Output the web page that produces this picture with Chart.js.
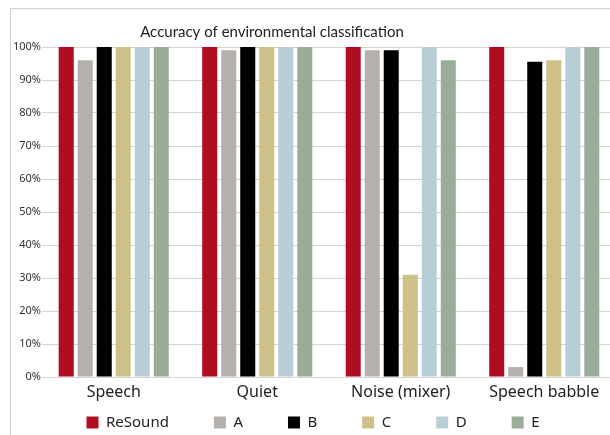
<!DOCTYPE html>
<html>
<head>
<meta charset="utf-8">
<script src="https://cdn.jsdelivr.net/npm/chart.js@4"></script>
<style>
  html, body { margin: 0; padding: 0; background: #fff; overflow: hidden; }
  #wrap { position: relative; width: 618px; height: 435px; }
</style>
</head>
<body>
<div id="wrap"><canvas id="c"></canvas></div>
<script>
const categories = ['Speech', 'Quiet', 'Noise (mixer)', 'Speech babble'];
const seriesNames = ['ReSound', 'A', 'B', 'C', 'D', 'E'];
const resoundValues = [100, 100, 100, 100];
const aValues = [96, 99, 99, 3];
const bValues = [100, 100, 99, 95.5];
const cValues = [100, 100, 31, 96];
const dValues = [100, 100, 100, 100];
const eValues = [100, 100, 96, 100];
const seriesColors = ['#B00C22', '#B5B0AB', '#000000', '#CEC089', '#B8CED6', '#9AAD98'];
const yTickStep = 10;

const allValues = [resoundValues, aValues, bValues, cValues, dValues, eValues];
const LEGEND_PAD = 45;

const framePlugin = {
  id: 'frame',
  beforeDraw(chart) {
    const ctx = chart.ctx;
    ctx.save();
    ctx.strokeStyle = '#d2d0cd';
    ctx.lineWidth = 1;
    ctx.beginPath();
    ctx.moveTo(10.5, chart.height + 5);
    ctx.lineTo(10.5, 8.5);
    ctx.lineTo(chart.width + 5, 8.5);
    ctx.stroke();
    ctx.restore();
  },
  afterLayout(chart) {
    const t = chart.titleBlock;
    if (t) { t.left = 10; t.right = 534; }
    const lg = chart.legend;
    if (lg) { lg.top -= (LEGEND_PAD - 2); }
  }
};

new Chart(document.getElementById('c'), {
  type: 'bar',
  data: {
    labels: categories,
    datasets: seriesNames.map((name, i) => ({
      label: name,
      data: allValues[i],
      backgroundColor: seriesColors[i],
      borderWidth: 0,
      categoryPercentage: 0.795,
      barPercentage: 0.79
    }))
  },
  options: {
    responsive: true,
    maintainAspectRatio: false,
    animation: false,
    devicePixelRatio: 1,
    layout: { padding: { top: 8, left: 10, right: 2, bottom: 0 } },
    plugins: {
      title: {
        display: true,
        text: 'Accuracy of environmental classification',
        color: '#222',
        font: { family: 'Lato', size: 15, weight: 'normal' },
        padding: { top: 15, bottom: 6 }
      },
      legend: {
        position: 'bottom',
        maxHeight: 22,
        labels: {
          boxWidth: 12,
          boxHeight: 12,
          padding: LEGEND_PAD,
          color: '#222',
          font: { family: 'Noto Sans', size: 15 }
        }
      },
      tooltip: { enabled: false }
    },
    scales: {
      x: {
        afterFit(scale) { scale.height = 36; },
        grid: { display: false, drawTicks: false, tickLength: 0 },
        border: { display: false },
        ticks: { color: '#222', font: { family: 'Noto Sans', size: 16 }, padding: 6 }
      },
      y: {
        min: 0,
        max: 100,
        afterFit(scale) { scale.width = 32; },
        grid: { color: '#d6d3d0', lineWidth: 1, drawTicks: false },
        border: { display: false },
        ticks: {
          stepSize: yTickStep,
          padding: 1,
          color: '#333',
          font: { family: 'Noto Sans', size: 11 },
          callback: v => v + '%'
        }
      }
    }
  },
  plugins: [framePlugin]
});
</script>
</body>
</html>
